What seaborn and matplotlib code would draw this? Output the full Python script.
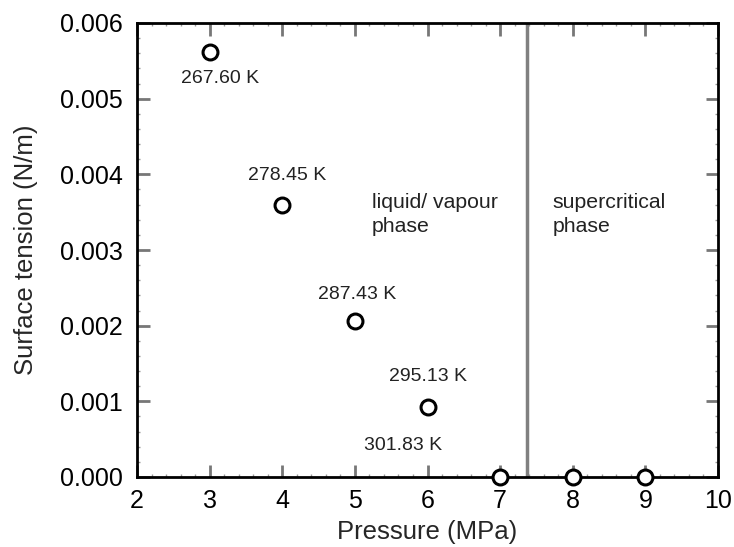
import matplotlib
matplotlib.use("Agg")
import matplotlib.pyplot as plt
import seaborn as sns
import pandas as pd
from matplotlib.ticker import MultipleLocator, FormatStrFormatter

pressure = [3, 4, 5, 6, 7, 8, 9]
surface_tension = [0.00562, 0.00359, 0.00206, 0.00093, 0.0, 0.0, 0.0]
temp_labels = ["267.60 K", "278.45 K", "287.43 K", "295.13 K", "301.83 K"]
label_pos_x = [3.14, 4.07, 5.03, 6.01, 5.67]
label_pos_y = [0.00527, 0.00399, 0.00241, 0.00133, 0.00041]
critical_pressure = 7.37

sns.set_theme(style="white")
plt.rcParams['font.family'] = ['Liberation Sans', 'DejaVu Sans']

df = pd.DataFrame({"Pressure": pressure, "Tension": surface_tension})

fig = plt.figure(figsize=(7.34, 5.47), dpi=100)
ax = fig.add_axes([137/734, 1-477/547, (718-137)/734, (477-23)/547])

ax.axvline(critical_pressure, color="#808080", lw=2.5, zorder=1)

sns.scatterplot(data=df, x="Pressure", y="Tension", ax=ax, s=115, marker="o",
                facecolor="white", edgecolor="black", linewidth=2.2, zorder=5, clip_on=False)

for t, x, y in zip(temp_labels, label_pos_x, label_pos_y):
    ax.text(x, y, t, fontsize=14, ha="center", va="center", color="#222222")

ax.text(5.23, 0.00347, "liquid/ vapour\nphase", fontsize=15.3, ha="left", va="center",
        color="#222222", linespacing=1.35)
ax.text(7.72, 0.00347, "supercritical\nphase", fontsize=15.3, ha="left", va="center",
        color="#222222", linespacing=1.35)

ax.set_xlim(2, 10)
ax.set_ylim(0, 0.006)
ax.xaxis.set_major_locator(MultipleLocator(1))
ax.yaxis.set_major_locator(MultipleLocator(0.001))
ax.xaxis.set_minor_locator(MultipleLocator(0.2))
ax.yaxis.set_minor_locator(MultipleLocator(0.0002))
ax.yaxis.set_major_formatter(FormatStrFormatter("%.3f"))

ax.tick_params(which="major", direction="in", length=9, width=2, color="#777777",
               top=True, right=True, bottom=True, left=True, labelsize=18,
               labelcolor="black")
ax.tick_params(axis="y", which="major", pad=10)
ax.tick_params(axis="x", which="major", pad=9)
ax.tick_params(which="minor", direction="in", length=2.5, width=1, color="#999999",
               top=True, right=True, bottom=True, left=True)

for sp in ax.spines.values():
    sp.set_color("black")
    sp.set_linewidth(2)

ax.set_xlabel("Pressure (MPa)", fontsize=18.5, labelpad=5)
ax.set_ylabel("Surface tension (N/m)", fontsize=18.5, labelpad=16)

fig.savefig("out.png", dpi=100)
